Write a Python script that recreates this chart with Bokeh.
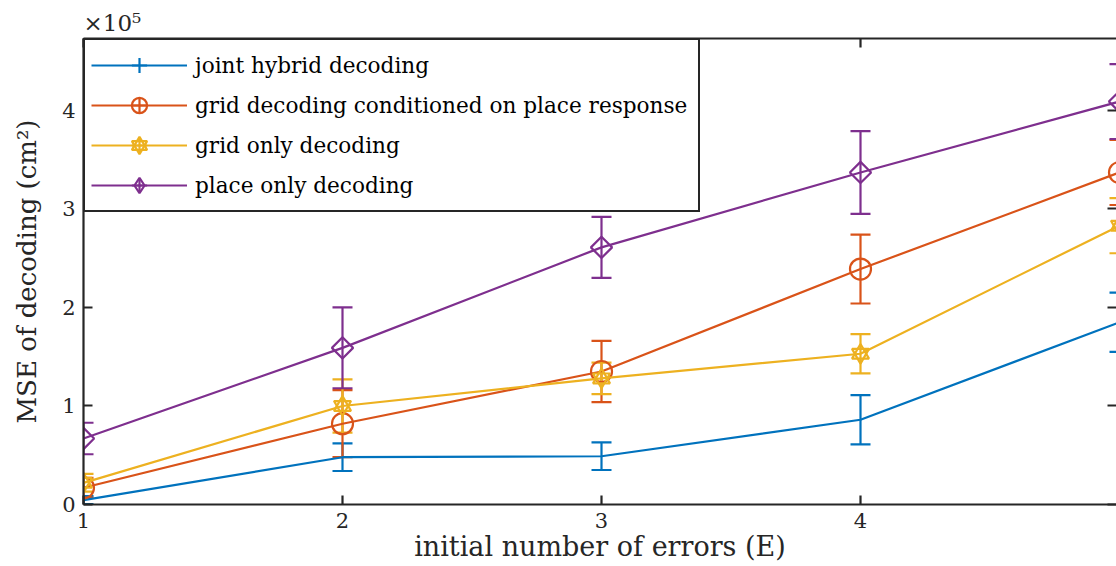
import math
from bokeh.plotting import figure
from bokeh.models import (ColumnDataSource, Whisker, TeeHead, Legend, LegendItem,
                          LinearAxis, FixedTicker, Range1d)
from bokeh.embed import file_html
from bokeh.resources import INLINE

# ---------------- data (MSE in units of 1e5 cm^2) ----------------
initial_errors = [1, 2, 3, 4, 5]
joint_hybrid = [0.045, 0.48, 0.49, 0.86, 1.85]
joint_hybrid_err = [0.04, 0.14, 0.14, 0.25, 0.30]
grid_cond_place = [0.17, 0.82, 1.35, 2.39, 3.37]
grid_cond_place_err = [0.10, 0.34, 0.31, 0.35, 0.33]
grid_only = [0.22, 1.00, 1.28, 1.53, 2.83]
grid_only_err = [0.09, 0.27, 0.16, 0.20, 0.28]
place_only = [0.67, 1.59, 2.61, 3.37, 4.09]
place_only_err = [0.16, 0.41, 0.31, 0.42, 0.38]

series_names = ["joint hybrid decoding",
                "grid decoding conditioned on place response",
                "grid only decoding",
                "place only decoding"]
colors = ["#0072BD", "#D95319", "#EDB120", "#7E2F8E"]
x_ticks = [1, 2, 3, 4, 5]
y_ticks = [0, 1, 2, 3, 4]
scale_label = "×10⁵"
x_label = "initial number of errors (E)"
y_label = "MSE of decoding (cm²)"

FONT = "DejaVu Serif"
AX = "#262626"
LW = 2.2

# frame geometry: x=1 at px 83, x=5 at px 1119, frame right edge at px 1116
x_end = 1 + 4 * (1116 - 83) / (1119 - 83)

p = figure(width=1116, height=566, output_backend="svg", toolbar_location=None,
           x_range=Range1d(1, x_end), y_range=Range1d(0, 4.73),
           min_border_left=83, min_border_right=0, min_border_top=38,
           min_border_bottom=62)
p.grid.visible = False
p.outline_line_color = None
p.background_fill_color = "white"
p.border_fill_color = "white"

p.title.text = scale_label
p.title.align = "left"
p.title.text_font = FONT
p.title.text_font_size = "23px"
p.title.text_font_style = "normal"
p.title.text_color = AX
p.title.standoff = 5


def style_axis(ax, ticks, show_labels=True, show_line=True):
    ax.ticker = FixedTicker(ticks=ticks)
    ax.axis_line_color = AX if show_line else None
    ax.axis_line_width = LW
    ax.major_tick_in = 9
    ax.major_tick_out = 0
    ax.minor_tick_in = 0
    ax.minor_tick_out = 0
    ax.major_tick_line_color = AX
    ax.major_tick_line_width = LW
    ax.major_label_text_font = FONT
    ax.major_label_text_font_size = "21px" if show_labels else "1px"
    if not show_labels:
        ax.major_label_overrides = {t: "" for t in ticks}
    ax.major_label_text_color = AX
    ax.axis_label_text_font = FONT
    ax.axis_label_text_font_style = "normal"
    ax.axis_label_text_color = AX


style_axis(p.xaxis[0], x_ticks)
p.xaxis[0].major_label_standoff = 8
p.xaxis[0].axis_label = x_label
p.xaxis[0].axis_label_text_font_size = "27px"
p.xaxis[0].axis_label_standoff = 0

style_axis(p.yaxis[0], y_ticks)
p.yaxis[0].major_label_standoff = 8
p.yaxis[0].axis_label = y_label
p.yaxis[0].axis_label_text_font_size = "26px"
p.yaxis[0].axis_label_standoff = 17

top_axis = LinearAxis()
style_axis(top_axis, x_ticks, show_labels=False)
top_axis.major_label_standoff = 0
p.add_layout(top_axis, "above")

right_axis = LinearAxis()
style_axis(right_axis, y_ticks, show_labels=False, show_line=False)
right_axis.major_label_standoff = 0
p.add_layout(right_axis, "right")

values = [joint_hybrid, grid_cond_place, grid_only, place_only]
errors = [joint_hybrid_err, grid_cond_place_err, grid_only_err, place_only_err]
markers = [[], ["circle"], ["triangle", "inverted_triangle"], ["square"]]
marker_sizes = [0, 21, 17, 15]
marker_angles = [0, 0, 0, math.pi / 4]

items = []
for name, vals, errs, col, mk, ms, ma in zip(series_names, values, errors, colors,
                                             markers, marker_sizes, marker_angles):
    src = ColumnDataSource(dict(x=initial_errors, y=vals,
                                upper=[v + e for v, e in zip(vals, errs)],
                                lower=[v - e for v, e in zip(vals, errs)]))
    wh = Whisker(source=src, base="x", upper="upper", lower="lower",
                 line_color=col, line_width=LW,
                 upper_head=TeeHead(size=20, line_color=col, line_width=LW),
                 lower_head=TeeHead(size=20, line_color=col, line_width=LW))
    p.add_layout(wh)
    line_r = p.line("x", "y", source=src, line_color=col, line_width=LW)
    # legend-only icon: vertical error bar (horizontal stroke hides under the line)
    bar_r = p.scatter("x", "y", source=src, marker="cross", size=31,
                      line_color=col, line_width=LW, visible=False)
    rs = [line_r, bar_r]
    for m in mk:
        r = p.scatter("x", "y", source=src, marker=m, size=ms, angle=ma,
                      fill_color=None, line_color=col, line_width=LW)
        if m != "square":
            rs.append(r)
    if "square" in mk:
        # legend-only diamond (legend glyphs are drawn unrotated)
        dr = p.scatter("x", "y", source=src, marker="diamond", size=25,
                       fill_color=None, line_color=col, line_width=LW, visible=False)
        rs.append(dr)
    items.append(LegendItem(label=name, renderers=rs))

legend = Legend(items=items, location="top_left", margin=0, padding=6, spacing=2,
                glyph_width=96, glyph_height=38, label_height=38, label_standoff=8,
                label_width=497,
                border_line_color=AX, border_line_width=2, border_line_alpha=1,
                label_text_font=FONT, label_text_font_size="21.6px",
                label_text_color="black", background_fill_alpha=1)
p.add_layout(legend)

open("out.html", "w").write(file_html(p, INLINE))
